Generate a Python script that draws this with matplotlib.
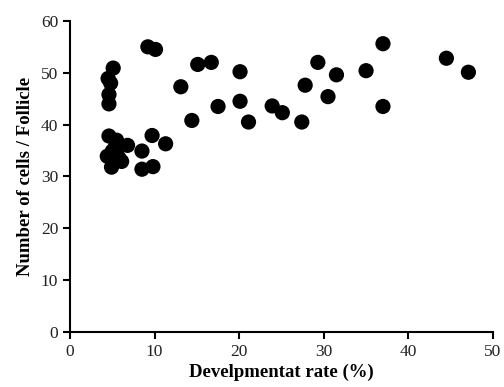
import numpy as np
import matplotlib.pyplot as plt

plt.rcParams['font.family'] = ['Liberation Serif', 'DejaVu Serif']

# Developmental rate (%) vs number of cells per follicle
rate = [9.2, 10.1, 5.1, 4.5, 4.8, 4.6, 4.6,
        4.6, 5.5, 6.8, 4.4, 5.0, 5.8, 4.9, 6.1, 5.3, 5.6, 5.0,
        8.5, 8.5, 9.8, 9.7, 11.3,
        13.1, 14.4, 15.1, 16.7, 17.5, 20.1, 20.1, 21.1,
        23.9, 25.1, 27.4, 27.8, 29.3, 30.5, 31.5, 35.0,
        37.0, 37.0, 44.5, 47.1]
cells = [55.0, 54.5, 50.9, 48.9, 48.0, 45.8, 44.0,
         37.8, 37.0, 36.0, 33.9, 34.9, 33.5, 31.8, 32.9, 35.5, 34.0, 33.0,
         34.9, 31.4, 31.9, 37.9, 36.3,
         47.3, 40.8, 51.6, 52.0, 43.5, 50.2, 44.5, 40.5,
         43.6, 42.3, 40.5, 47.6, 52.0, 45.4, 49.6, 50.4,
         55.6, 43.5, 52.8, 50.1]

fig = plt.figure(figsize=(5.04, 3.87), dpi=100)
ax = fig.add_axes([0.139, 0.142, 0.839, 0.804])
ax.scatter(rate, cells, s=120, color='black', edgecolors='none', zorder=3)

ax.set_xlim(0, 50)
ax.set_ylim(0, 60)
ax.set_xticks(np.arange(0, 51, 10))
ax.set_yticks(np.arange(0, 61, 10))
for s in ['top', 'right']:
    ax.spines[s].set_visible(False)
for s in ['left', 'bottom']:
    ax.spines[s].set_linewidth(1.5)
ax.tick_params(direction='out', length=5, width=1.5, labelsize=12.5, labelcolor='#222222')
ax.set_xlabel('Develpmentat rate (%)', fontsize=13.5, fontweight='bold', labelpad=3)
ax.set_ylabel('Number of cells / Follicle', fontsize=13.5, fontweight='bold', labelpad=5)

plt.savefig('out.png', dpi=100)
